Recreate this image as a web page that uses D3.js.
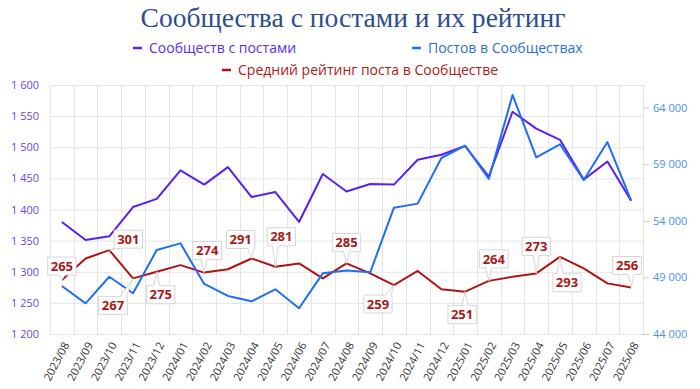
<!DOCTYPE html>
<html><head><meta charset="utf-8">
<script src="https://cdn.jsdelivr.net/npm/d3@7"></script>
<style>body{margin:0;background:#fff}svg{display:block}</style>
</head><body><div id="chart"></div>
<script>
const months = ["2023/08","2023/09","2023/10","2023/11","2023/12","2024/01","2024/02","2024/03","2024/04","2024/05","2024/06","2024/07","2024/08","2024/09","2024/10","2024/11","2024/12","2025/01","2025/02","2025/03","2025/04","2025/05","2025/06","2025/07","2025/08"];
const communities = [1380,1351,1357,1404,1417,1463,1440,1468,1420,1428,1380,1457,1429,1441,1440,1480,1488,1502,1453,1557,1530,1512,1448,1477,1414];
const posts = [48240,46710,49060,47600,51420,52010,48420,47360,46890,47950,46270,49360,49600,49450,55160,55520,59550,60640,57700,65120,59610,60760,57610,60960,55780];
const rating = [265,291,301,267,275,283,274,278,291,281,285,267,285,273,259,276,254,251,264,269,273,293,279,261,256];
const leftTicks = [1200,1250,1300,1350,1400,1450,1500,1550,1600];
const rightTicks = [44000,49000,54000,59000,64000];
const labeledIdx = [0,2,3,4,6,8,9,12,14,17,18,20,21,24];
const seriesNames = ["Сообществ с постами","Постов в Сообществах","Средний рейтинг поста в Сообществе"];
const titleText = "Сообщества с постами и их рейтинг";

// label placement (layout only)
const labelOffset = {0:[0,-14],2:[19,-11],3:[-20,27],4:[4,23],6:[3,-22],8:[-11,-19],9:[6,-30],12:[0,-21],14:[-16,19],17:[-3,23],18:[5,-22],20:[0,-27],21:[7,26],24:[-4,-22]};

const W=700,H=389;
const m={l:50,r:57,t:85,b:55};
const x0=m.l,x1=W-m.r,y0=m.t,y1=H-m.b;
const cPurple="#5b1ef0", cBlue="#1f6ff2", cRed="#b01515";
const svg=d3.select("#chart").append("svg").attr("width",W).attr("height",H);

const xb=d3.scaleBand().domain(months).range([x0,x1]);
const xs=d3.scalePoint().domain(months).range([x0,x1]).padding(0.5);
const yL=d3.scaleLinear().domain([1200,1600]).range([y1,y0]);
const yR=d3.scaleLinear().domain([44000,66000]).range([y1,y0]);
const yH=d3.scaleLinear().domain([200,500]).range([y1,y0]);
const loc=d3.formatLocale({decimal:",",thousands:"\u00a0",grouping:[3],currency:["",""]});
const fmt=loc.format(",d");

// grid
const g=svg.append("g");
g.selectAll(".hg").data(leftTicks).join("line").attr("x1",x0).attr("x2",x1).attr("y1",d=>yL(d)+0.5).attr("y2",d=>yL(d)+0.5).attr("stroke","#e4e4e4");
const edges=months.map(d=>xb(d)).concat([x1]);
g.selectAll(".vg").data(edges).join("line").attr("x1",d=>Math.round(d)+0.5).attr("x2",d=>Math.round(d)+0.5).attr("y1",y0).attr("y2",y1).attr("stroke","#e4e4e4");

// left axis
const ax=svg.append("g").attr("transform",`translate(${x0},0)`).call(d3.axisLeft(yL).tickValues(leftTicks).tickFormat(fmt).tickSize(0).tickPadding(11));
ax.select(".domain").remove();
ax.selectAll("text").attr("fill","#6a3ff2").style("font-family","'Open Sans',sans-serif").style("font-size","11px");
// right axis
const ar=svg.append("g").attr("transform",`translate(${x1},0)`).call(d3.axisRight(yR).tickValues(rightTicks).tickFormat(fmt).tickSize(6).tickPadding(4));
ar.select(".domain").remove();
ar.selectAll("line").attr("stroke","#cccccc");
ar.selectAll("text").attr("fill","#4a90ee").style("font-family","'Open Sans',sans-serif").style("font-size","11px");
// x axis
const axb=svg.append("g").attr("transform",`translate(0,${y1})`).call(d3.axisBottom(xs).tickSize(0).tickPadding(0));
axb.select(".domain").remove();
axb.selectAll("text").attr("fill","#333").style("font-family","'Open Sans',sans-serif").style("font-size","11px")
  .attr("text-anchor","end").attr("dy","0.35em").attr("transform","translate(4,9) rotate(-62)");

// lines
const line=(ys)=>d3.line().x((d,i)=>xs(months[i])).y(d=>ys(d));
svg.append("path").datum(rating).attr("d",line(yH)).attr("fill","none").attr("stroke",cRed).attr("stroke-width",2).attr("stroke-linejoin","round");
svg.append("path").datum(communities).attr("d",line(yL)).attr("fill","none").attr("stroke",cPurple).attr("stroke-width",2).attr("stroke-linejoin","round");
svg.append("path").datum(posts).attr("d",line(yR)).attr("fill","none").attr("stroke",cBlue).attr("stroke-width",2).attr("stroke-linejoin","round");

// callouts
const lg=svg.append("g");
labeledIdx.forEach(i=>{
  const px=xs(months[i]), py=yH(rating[i]);
  const [dx,dy]=labelOffset[i];
  const cx=px+dx, cy=py+dy;
  const t=lg.append("text").attr("x",cx).attr("y",cy).attr("text-anchor","middle").attr("dy","0.36em")
    .attr("fill","#a81818").style("font-family","'Open Sans',sans-serif").style("font-size","13px").style("font-weight","bold").text(rating[i]);
  const bb=t.node().getBBox();
  const bw=bb.width+6, bh=18;
  const bx0=cx-bw/2, bx1=cx+bw/2, by0=cy-bh/2, by1=cy+bh/2;
  const bx=Math.max(bx0+4,Math.min(bx1-4,px));
  let p;
  if(py>by1){ p=`M${bx0},${by0}H${bx1}V${by1}H${bx+3}L${px},${py}L${bx-3},${by1}H${bx0}Z`; }
  else { p=`M${bx0},${by0}H${bx-3}L${px},${py}L${bx+3},${by0}H${bx1}V${by1}H${bx0}Z`; }
  lg.insert("path","text").attr("d",p).attr("fill","#fff").attr("stroke","#d6d6d6").attr("stroke-width",1);
  t.raise();
});

// title
const tt=svg.append("text").attr("x",353).attr("y",27).attr("text-anchor","middle").attr("fill","#2d4d8e")
  .style("font-family","'Liberation Serif',serif").style("font-size","30px").text(titleText);
const tw=tt.node().getComputedTextLength();
tt.style("font-size",(30*425/tw).toFixed(2)+"px");
// legend
const legend=[{n:seriesNames[0],c:cPurple,tc:"#5b2cf0",x:133,y:48},{n:seriesNames[1],c:cBlue,tc:"#2a6fdf",x:412,y:48},{n:seriesNames[2],c:cRed,tc:"#b01818",x:222,y:70}];
legend.forEach(l=>{
  svg.append("line").attr("x1",l.x).attr("x2",l.x+9).attr("y1",l.y).attr("y2",l.y).attr("stroke",l.c).attr("stroke-width",2.5);
  svg.append("text").attr("x",l.x+16).attr("y",l.y).attr("dy","0.35em").attr("fill",l.tc).style("font-family","'Open Sans',sans-serif").style("font-size","14px").text(l.n);
});
</script></body></html>
